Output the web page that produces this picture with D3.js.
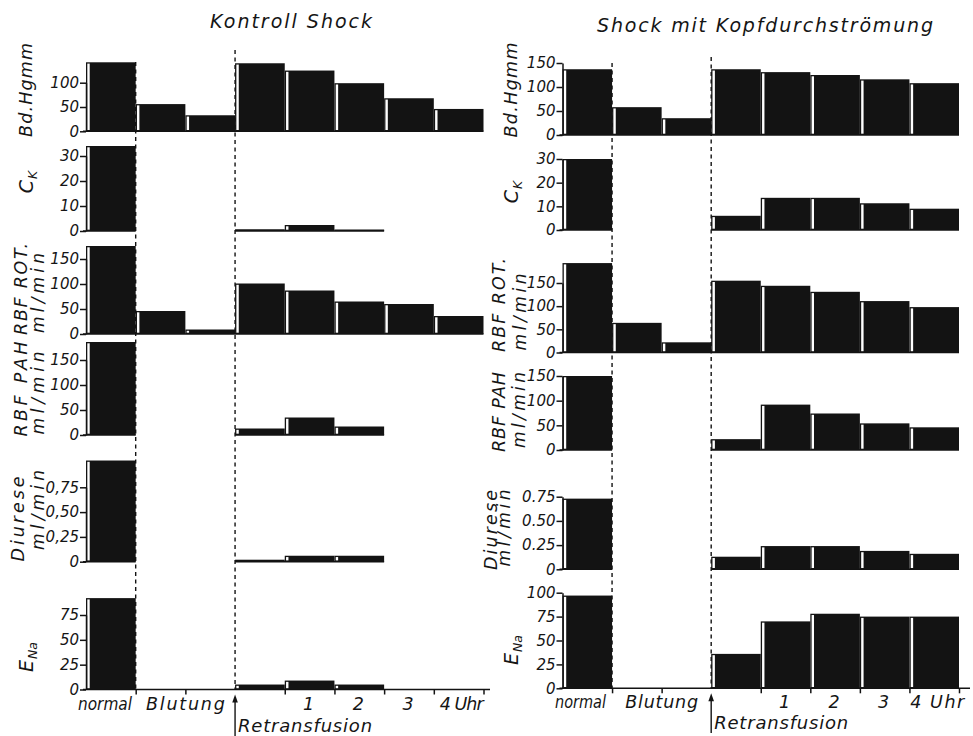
<!DOCTYPE html>
<html><head><meta charset="utf-8">
<script src="https://cdn.jsdelivr.net/npm/d3@7/dist/d3.min.js"></script>
<style>
html,body{margin:0;padding:0;background:#fff;}
svg{display:block;}
text{font-family:"DejaVu Sans",sans-serif;font-style:italic;fill:#151515;}
</style></head><body>
<script>
// ---------------- data ----------------
const slots = ["normal","Blutung 1","Blutung 2","Retransfusion","1","2","3","4 Uhr"];
const panelTitles = ["Kontroll Shock","Shock mit Kopfdurchströmung"];
const rowTitleMain = ["Bd.Hgmm","C","RBF ROT.","RBF PAH","Diurese","E"];
const rowTitleSub  = [null,"K",null,null,null,"Na"];
const rowTitleUnit = [null,null,"ml/min","ml/min","ml/min",null];

// Kontroll Shock (null = no bar drawn)
const kontrollBd      = [142, 56, 33, 140, 125, 99, 68, 46];
const kontrollCK      = [34, null, null, 0.7, 2.4, 0.6, null, null];
const kontrollRBFrot  = [176, 46, 9, 101, 87, 65, 60, 36];
const kontrollRBFpah  = [186, null, null, 13, 35, 17, null, null];
const kontrollDiurese = [1.02, null, null, 0.02, 0.06, 0.06, null, null];
const kontrollENa     = [92, null, null, 5, 9, 5, null, null];

// Shock mit Kopfdurchströmung
const kopfBd      = [137, 58, 35, 137, 131, 125, 116, 108];
const kopfCK      = [30, null, null, 6, 13.6, 13.6, 11.3, 9];
const kopfRBFrot  = [193, 64, 22, 155, 144, 131, 111, 98];
const kopfRBFpah  = [150, null, null, 22, 92, 74, 54, 46];
const kopfDiurese = [0.73, null, null, 0.13, 0.24, 0.24, 0.19, 0.16];
const kopfENa     = [97, null, null, 36, 70, 78, 75, 75];

// tick values
const ticksBdK   = [0, 50, 100];
const ticksBdS   = [0, 50, 100, 150];
const ticksCK    = [0, 10, 20, 30];
const ticksRBF   = [0, 50, 100, 150];
const ticksDiu   = [0, 0.25, 0.5, 0.75];
const ticksENaK  = [0, 25, 50, 75];
const ticksENaS  = [0, 25, 50, 75, 100];
const bottomLabels = ["normal", "Blutung", "1", "2", "3", "4 Uhr"];
const arrowLabel = "Retransfusion";

// --------------- tables built from arrays ---------------
const panelData = [
  [kontrollBd, kontrollCK, kontrollRBFrot, kontrollRBFpah, kontrollDiurese, kontrollENa],
  [kopfBd, kopfCK, kopfRBFrot, kopfRBFpah, kopfDiurese, kopfENa]
];
const panelTicks = [
  [ticksBdK, ticksCK, ticksRBF, ticksRBF, ticksDiu, ticksENaK],
  [ticksBdS, ticksCK, ticksRBF, ticksRBF, ticksDiu, ticksENaS]
];

// --------------- layout ---------------
const W = 973, H = 736;
const layout = [
  { x0: 86, x1: 483.5, axisEnd: 490, decimal: ",",
    title: {x: 291, y: 28, len: 162},
    base: [131.3, 231, 334, 435, 561.7, 689.5],
    top:  [82.7, 156, 259, 360, 487.3, 615],
    labCY: [90, 182, 289, 389, 519, 657],
    unitCY: [null, null, 293, 393, 510, null],
    labLen: [94, null, 92, 95, 85, null],
    unitLen: [null, null, 80, 83, 80, null],
    labX: [32, 33, 27, 27, 24, 33],
    unitX: [null, null, 44, 44, 44, null],
    dashTop: [62, 50],
    normalX: 78, normalLen: 54, blutungLen: 79, uhrLen: 44,
    labelBaseY: 709.5, retransY: 731.5, arrowBottom: 736 },
  { x0: 562.5, x1: 959, axisEnd: 970, decimal: ".",
    title: {x: 765, y: 32, len: 336},
    base: [135, 230, 352.5, 450, 569.3, 688.3],
    top:  [63, 159, 283, 376, 496.7, 592.7],
    labCY: [90, 192, 305, 412, 530, 650],
    unitCY: [null, null, 312, 410, 528, null],
    labLen: [95, null, 94, 80, 80, null],
    unitLen: [null, null, 77, 76, 77, null],
    labX: [517, 518, 505, 505, 497, 518],
    unitX: [null, null, 526, 525, 510, null],
    dashTop: [63, 57],
    normalX: 555, normalLen: 51, blutungLen: 73, uhrLen: 54,
    labelBaseY: 708, retransY: 729, arrowBottom: 733 }
];

const ink = "#131313";
const svg = d3.select("body").append("svg").attr("width", W).attr("height", H);
svg.append("rect").attr("width", W).attr("height", H).attr("fill", "#fff");

layout.forEach((L, p) => {
  const g = svg.append("g");
  const x = d3.scaleBand().domain(slots).range([L.x0, L.x1]).paddingInner(0).paddingOuter(0);
  const xb = d3.scaleLinear().domain([0, slots.length]).range([L.x0, L.x1]); // slot boundaries
  const lastBase = L.base[L.base.length - 1];

  // panel title
  g.append("text").attr("x", L.title.x).attr("y", L.title.y)
    .attr("text-anchor", "middle").attr("font-size", 19)
    .attr("textLength", L.title.len).attr("lengthAdjust", "spacing")
    .text(panelTitles[p]);

  // dashed separators (behind bars)
  [1, 3].forEach((b, k) => {
    g.append("line").attr("x1", xb(b)).attr("x2", xb(b))
      .attr("y1", L.dashTop[k]).attr("y2", lastBase)
      .attr("stroke", ink).attr("stroke-width", 1.4).attr("stroke-dasharray", "4,3.5");
  });

  panelData[p].forEach((vals, r) => {
    const ticks = panelTicks[p][r];
    const tmax = ticks[ticks.length - 1];
    const y = d3.scaleLinear().domain([0, tmax]).range([L.base[r], L.top[r]]);
    const base = L.base[r];
    const fmt = v => {
      if (tmax < 1) return v === 0 ? "0" : d3.format(".2f")(v).replace(".", L.decimal);
      return String(v);
    };

    // baseline segments under drawn bars
    if (r < 5) {
      let runStart = null;
      vals.forEach((v, i) => {
        if (v !== null && runStart === null) runStart = i;
        if ((v === null || i === vals.length - 1) && runStart !== null) {
          const end = v === null ? i : i + 1;
          g.append("line").attr("x1", runStart === 0 ? L.x0 - 3 : xb(runStart)).attr("x2", xb(end))
            .attr("y1", base).attr("y2", base).attr("stroke", ink).attr("stroke-width", 1.6);
          runStart = null;
        }
      });
    } else {
      // bottom time axis
      g.append("line").attr("x1", L.x0 - 3).attr("x2", L.axisEnd)
        .attr("y1", base).attr("y2", base).attr("stroke", ink).attr("stroke-width", 1.6);
      const bAxis = d3.axisBottom(xb).tickValues([1, 2, 4, 5, 6, 7, 8]).tickSize(5).tickFormat("");
      const ga = g.append("g").attr("transform", `translate(0,${base})`).call(bAxis);
      ga.select(".domain").remove();
      ga.selectAll("line").attr("stroke", ink).attr("stroke-width", 1.5);
    }

    // bars
    vals.forEach((v, i) => {
      if (v === null) return;
      const yt = y(v);
      const h = Math.max(base - yt, 1.2);
      g.append("rect").attr("x", x(slots[i])).attr("y", base - h)
        .attr("width", x.bandwidth()).attr("height", h).attr("fill", ink);
      if (h > 3) {
        g.append("rect").attr("x", x(slots[i]) + 1.3).attr("y", base - h + 1.3)
          .attr("width", 2.4).attr("height", h - 2.6).attr("fill", "#fff");
      }
    });

    // y axis
    const ax = d3.axisLeft(y).tickValues(ticks).tickSize(6).tickSizeOuter(0).tickPadding(1).tickFormat(fmt);
    const gy = g.append("g").attr("transform", `translate(${L.x0},0)`).call(ax);
    gy.select(".domain").attr("stroke", ink).attr("stroke-width", 1.5);
    gy.selectAll(".tick line").attr("stroke", ink).attr("stroke-width", 1.5);
    gy.selectAll(".tick text").attr("font-size", 15).attr("font-family", "DejaVu Sans")
      .attr("font-style", "italic").attr("fill", "#151515");

    // row titles (rotated)
    const hasUnit = rowTitleUnit[r] !== null;
    const t = g.append("text").attr("transform", `translate(${L.labX[r]},${L.labCY[r]}) rotate(-90)`)
      .attr("text-anchor", "middle").attr("font-size", 17.5);
    if (rowTitleSub[r]) {
      t.append("tspan").attr("font-size", 19).text(rowTitleMain[r]);
      t.append("tspan").attr("font-size", 12.5).attr("dy", 4).attr("dx", 1).text(rowTitleSub[r]);
    } else {
      t.attr("textLength", L.labLen[r]).attr("lengthAdjust", "spacing").text(rowTitleMain[r]);
    }
    if (hasUnit) {
      g.append("text").attr("transform", `translate(${L.unitX[r]},${L.unitCY[r]}) rotate(-90)`)
        .attr("text-anchor", "middle").attr("font-size", 17)
        .attr("textLength", L.unitLen[r]).attr("lengthAdjust", "spacing")
        .text(rowTitleUnit[r]);
    }
  });

  // bottom labels
  const lb = L.labelBaseY;
  const c = i => x(slots[i]) + x.bandwidth() / 2;
  g.append("text").attr("x", L.normalX).attr("y", lb).attr("text-anchor", "start")
    .attr("font-size", 17).attr("textLength", L.normalLen).attr("lengthAdjust", "spacingAndGlyphs")
    .text(bottomLabels[0]);
  g.append("text").attr("x", xb(2)).attr("y", lb).attr("text-anchor", "middle")
    .attr("font-size", 17.5).attr("textLength", L.blutungLen).attr("lengthAdjust", "spacing").text(bottomLabels[1]);
  [2, 3, 4].forEach((k, j) => {
    g.append("text").attr("x", c(4 + j) - 1).attr("y", lb).attr("text-anchor", "middle")
      .attr("font-size", 17.5).text(bottomLabels[k]);
  });
  g.append("text").attr("x", c(7) + 3).attr("y", lb).attr("text-anchor", "middle")
    .attr("font-size", 17.5).attr("textLength", L.uhrLen).attr("lengthAdjust", "spacing").text(bottomLabels[5]);

  // Retransfusion arrow
  const ax3 = xb(3);
  const tipY = lastBase + 5;
  g.append("line").attr("x1", ax3).attr("x2", ax3).attr("y1", tipY + 4).attr("y2", L.arrowBottom)
    .attr("stroke", ink).attr("stroke-width", 1.4);
  g.append("path").attr("d", `M${ax3},${tipY} L${ax3 - 2.8},${tipY + 8} L${ax3 + 2.8},${tipY + 8} Z`)
    .attr("fill", ink);
  g.append("text").attr("x", ax3 + 3).attr("y", L.retransY).attr("font-size", 18)
    .attr("textLength", 134).attr("lengthAdjust", "spacing").text(arrowLabel);
});
</script>
</body></html>
